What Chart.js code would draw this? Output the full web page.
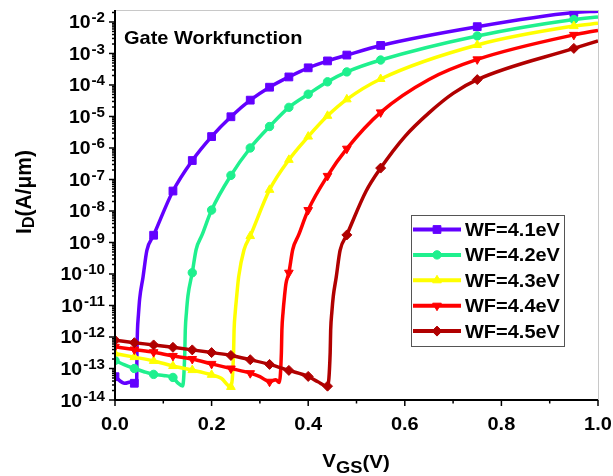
<!DOCTYPE html>
<html>
<head>
<meta charset="utf-8">
<script src="https://cdn.jsdelivr.net/npm/chart.js@4"></script>
<style>
html, body { margin: 0; padding: 0; background: #fff; }
canvas { display: block; }
</style>
</head>
<body>
<canvas id="idvg" width="613" height="476"></canvas>
<script>
// valeurs (VGS en V, ID en A/um)
const vgs41 = [0, 0.02, 0.035, 0.04, 0.0448, 0.0455, 0.0465, 0.0485, 0.051, 0.058, 0.066, 0.08, 0.12, 0.16, 0.20, 0.24, 0.28, 0.32, 0.36, 0.40, 0.44, 0.48, 0.55, 0.75, 0.95, 1.0];
const id41 = [5.5e-14, 3.4e-14, 3.8e-14, 3.4e-14, 3.0e-14, 3.2e-13, 1.6e-12, 5.0e-12, 1.6e-11, 7.9e-11, 5.6e-10, 1.7e-9, 4.3e-8, 4.0e-7, 2.3e-6, 9.8e-6, 3.3e-5, 8.5e-5, 1.8e-4, 3.5e-4, 5.8e-4, 8.9e-4, 1.8e-3, 7.1e-3, 2.0e-2, 2.2e-2];

const vgs42 = [0, 0.02, 0.04, 0.06, 0.08, 0.10, 0.12, 0.13, 0.14, 0.1445, 0.1455, 0.148, 0.151, 0.16, 0.168, 0.18, 0.20, 0.24, 0.28, 0.32, 0.36, 0.40, 0.44, 0.48, 0.55, 0.75, 0.95, 1.0];
const id42 = [1.8e-13, 1.3e-13, 1.0e-13, 7.9e-14, 6.5e-14, 6.0e-14, 5.2e-14, 3.5e-14, 2.8e-14, 3.2e-13, 1.6e-12, 6.3e-12, 2.0e-11, 1.1e-10, 6.0e-10, 1.7e-9, 1.07e-8, 1.35e-7, 1.0e-6, 4.8e-6, 1.95e-5, 5.1e-5, 1.26e-4, 2.6e-4, 6.2e-4, 3.6e-3, 1.2e-2, 1.45e-2];

const vgs43 = [0, 0.04, 0.08, 0.12, 0.16, 0.20, 0.22, 0.24, 0.2455, 0.2465, 0.249, 0.252, 0.256, 0.267, 0.28, 0.32, 0.36, 0.40, 0.44, 0.48, 0.55, 0.75, 0.95, 1.0];
const id43 = [3.0e-13, 2.3e-13, 1.74e-13, 1.2e-13, 8.9e-14, 6.3e-14, 4.9e-14, 2.6e-14, 3.2e-13, 1.6e-12, 6.3e-12, 2.0e-11, 8.1e-11, 5.8e-10, 1.6e-9, 4.7e-8, 4.2e-7, 2.3e-6, 1.05e-5, 3.5e-5, 1.55e-4, 1.86e-3, 7.4e-3, 9.1e-3];

const vgs44 = [0, 0.04, 0.08, 0.12, 0.16, 0.20, 0.24, 0.28, 0.30, 0.32, 0.333, 0.34, 0.3445, 0.3455, 0.348, 0.351, 0.354, 0.36, 0.368, 0.38, 0.40, 0.44, 0.48, 0.55, 0.65, 0.75, 0.95, 1.0];
const id44 = [4.9e-13, 4.0e-13, 3.3e-13, 2.5e-13, 2.0e-13, 1.4e-13, 1.0e-13, 7.1e-14, 5.5e-14, 3.8e-14, 4.4e-14, 3.6e-14, 3.2e-13, 1.6e-12, 6.3e-12, 2.0e-11, 5.0e-11, 1.1e-10, 6.0e-10, 1.7e-9, 1.07e-8, 1.3e-7, 9.5e-7, 1.35e-5, 1.5e-4, 6.5e-4, 3.9e-3, 5.4e-3];

const vgs45 = [0, 0.04, 0.08, 0.12, 0.16, 0.20, 0.24, 0.28, 0.32, 0.36, 0.40, 0.42, 0.44, 0.4455, 0.4465, 0.449, 0.452, 0.458, 0.466, 0.48, 0.52, 0.55, 0.60, 0.65, 0.70, 0.75, 0.95, 1.0];
const id45 = [7.9e-13, 6.6e-13, 5.6e-13, 4.7e-13, 3.9e-13, 3.2e-13, 2.6e-13, 1.9e-13, 1.35e-13, 8.7e-14, 5.6e-14, 3.8e-14, 2.75e-14, 3.2e-13, 1.6e-12, 6.3e-12, 2.0e-11, 7.9e-11, 5.6e-10, 1.74e-9, 4.3e-8, 2.3e-7, 2.3e-6, 1.3e-5, 5.4e-5, 1.48e-4, 1.45e-3, 2.5e-3];

// VGS ou un symbole est dessine
const markerVgs = [0, 0.04, 0.08, 0.12, 0.16, 0.20, 0.24, 0.28, 0.32, 0.36, 0.40, 0.44, 0.48, 0.55, 0.75, 0.95];

const seriesNames = ['WF=4.1eV', 'WF=4.2eV', 'WF=4.3eV', 'WF=4.4eV', 'WF=4.5eV'];
const seriesColors = ['#6300FF', '#1FF08E', '#FFFF00', '#FF0000', '#B00000'];
const xTicks = [0, 0.2, 0.4, 0.6, 0.8, 1.0];
const xTickLabels = ['0.0', '0.2', '0.4', '0.6', '0.8', '1.0'];
const xMinorTicks = [0.1, 0.3, 0.5, 0.7, 0.9];
const yDecades = [-14, -13, -12, -11, -10, -9, -8, -7, -6, -5, -4, -3, -2];

const FONT = '"Liberation Sans", Arial, sans-serif';
const STRETCH = 1.08;

const styles = [
    { pointStyle: 'rect', rotation: 0, radius: 5.5 },
    { pointStyle: 'circle', rotation: 0, radius: 4.2 },
    { pointStyle: 'triangle', rotation: 0, radius: 5 },
    { pointStyle: 'triangle', rotation: 180, radius: 5 },
    { pointStyle: 'rectRot', rotation: 0, radius: 5 }
];

function markerAt(x) {
    return markerVgs.some(v => Math.abs(v - x) < 1e-6);
}

const allVgs = [vgs41, vgs42, vgs43, vgs44, vgs45];
const allId = [id41, id42, id43, id44, id45];

const datasets = allVgs.map((vgs, k) => ({
    label: seriesNames[k],
    data: vgs.map((v, i) => ({ x: v, y: allId[k][i] })),
    borderColor: seriesColors[k],
    backgroundColor: seriesColors[k],
    borderWidth: 3.5,
    cubicInterpolationMode: 'monotone',
    pointStyle: styles[k].pointStyle,
    pointRotation: styles[k].rotation,
    pointBorderWidth: 1,
    pointRadius: c => (c.raw && markerAt(c.raw.x)) ? styles[k].radius : 0,
    order: 4 - k
}));

function largeur(ctx, str, size) {
    ctx.font = 'bold ' + size + 'px ' + FONT;
    return ctx.measureText(str).width * STRETCH;
}

function texte(ctx, str, x, y, size, align) {
    const w = largeur(ctx, str, size);
    let x0 = x;
    if (align === 'center') x0 = x - w / 2;
    else if (align === 'right') x0 = x - w;
    ctx.save();
    ctx.translate(x0, y);
    ctx.scale(STRETCH, 1);
    ctx.textAlign = 'left';
    ctx.textBaseline = 'alphabetic';
    ctx.fillStyle = '#000';
    ctx.fillText(str, 0, 0);
    ctx.restore();
    return w;
}

function trait(ctx, x1, y1, x2, y2) {
    ctx.beginPath();
    ctx.moveTo(x1, y1);
    ctx.lineTo(x2, y2);
    ctx.stroke();
}

const decor = {
    id: 'decor',
    afterDraw(chart) {
        const ctx = chart.ctx;
        const a = chart.chartArea;
        const sx = chart.scales.x;
        const sy = chart.scales.y;
        ctx.save();

        // cadre haut et droite
        ctx.strokeStyle = '#c8c8c8';
        ctx.lineWidth = 1;
        trait(ctx, a.left, a.top + 0.5, a.right + 0.5, a.top + 0.5);
        trait(ctx, a.right + 0.5, a.top, a.right + 0.5, a.bottom);

        // axes
        ctx.strokeStyle = '#000';
        ctx.lineWidth = 2;
        trait(ctx, a.left, a.top, a.left, a.bottom + 1);
        trait(ctx, a.left - 1, a.bottom, a.right, a.bottom);

        // graduations Y
        ctx.lineWidth = 1.5;
        yDecades.forEach(e => {
            for (let m = 1; m <= 9; m++) {
                const v = m * Math.pow(10, e);
                if (v > sy.max * 1.0001) break;
                const py = sy.getPixelForValue(v);
                trait(ctx, a.left - (m === 1 ? 6 : 3), py, a.left, py);
            }
            const py = sy.getPixelForValue(Math.pow(10, e));
            const sup = '-' + (-e);
            const w10 = largeur(ctx, '10', 18);
            const ws = largeur(ctx, sup, 14);
            const x0 = 105 - w10 - ws - 1;
            texte(ctx, '10', x0, py + 6.5, 18, 'left');
            texte(ctx, sup, x0 + w10 + 1, py + 0.5, 14, 'left');
        });

        // graduations X
        xTicks.forEach((v, i) => {
            const px = sx.getPixelForValue(v);
            trait(ctx, px, a.bottom, px, a.bottom + 6);
            texte(ctx, xTickLabels[i], px, a.bottom + 30, 18.5, 'center');
        });
        xMinorTicks.forEach(v => {
            const px = sx.getPixelForValue(v);
            trait(ctx, px, a.bottom, px, a.bottom + 3.5);
        });

        // titre X : V_GS(V)
        const wV = largeur(ctx, 'V', 19), wGS = largeur(ctx, 'GS', 17), wP = largeur(ctx, '(V)', 19);
        let tx = 356 - (wV + wGS + wP) / 2;
        tx += texte(ctx, 'V', tx, 467, 19, 'left');
        tx += texte(ctx, 'GS', tx, 473, 17, 'left');
        texte(ctx, '(V)', tx, 468, 19, 'left');

        // titre Y : I_D(A/um)
        ctx.save();
        ctx.translate(31, 192);
        ctx.rotate(-Math.PI / 2);
        ctx.scale(1, STRETCH);
        ctx.fillStyle = '#000';
        ctx.textBaseline = 'alphabetic';
        ctx.font = 'bold 21px ' + FONT;
        const wI = ctx.measureText('I').width, wR = ctx.measureText('(A/μm)').width;
        ctx.font = 'bold 16px ' + FONT;
        const wD = ctx.measureText('D').width;
        let ty = -(wI + wD + wR) / 2;
        ctx.font = 'bold 21px ' + FONT;
        ctx.fillText('I', ty, 0);
        ty += wI;
        ctx.font = 'bold 16px ' + FONT;
        ctx.fillText('D', ty, 2.8);
        ty += wD;
        ctx.font = 'bold 21px ' + FONT;
        ctx.fillText('(A/μm)', ty, 0);
        ctx.restore();

        // annotation
        texte(ctx, 'Gate Workfunction', 124, 43.5, 18.5, 'left');

        // legende
        const lx0 = 411, lx1 = 564, ly0 = 215, ly1 = 346;
        ctx.fillStyle = '#fff';
        ctx.fillRect(lx0, ly0, lx1 - lx0, ly1 - ly0);
        ctx.strokeStyle = '#555';
        ctx.lineWidth = 1;
        ctx.strokeRect(lx0 + 0.5, ly0 + 0.5, lx1 - lx0, ly1 - ly0);
        seriesNames.forEach((name, k) => {
            const y = 229.5 + k * 25.4;
            ctx.strokeStyle = seriesColors[k];
            ctx.fillStyle = seriesColors[k];
            ctx.lineWidth = 4;
            trait(ctx, lx0 + 2, y, 461, y);
            ctx.lineWidth = 1;
            if (Chart.helpers && Chart.helpers.drawPoint) {
                Chart.helpers.drawPoint(ctx, {
                    pointStyle: styles[k].pointStyle,
                    rotation: styles[k].rotation,
                    radius: styles[k].radius,
                    borderWidth: 1
                }, 437, y);
            }
            texte(ctx, name, 465, y + 6.5, 18.5, 'left');
        });

        ctx.restore();
    }
};

new Chart(document.getElementById('idvg'), {
    type: 'line',
    data: { datasets: datasets },
    options: {
        responsive: false,
        animation: false,
        devicePixelRatio: 1,
        layout: { padding: { left: 115, right: 15, top: 10, bottom: 76 } },
        plugins: {
            legend: { display: false },
            tooltip: { enabled: false }
        },
        scales: {
            x: { type: 'linear', min: 0, max: 1, display: false },
            y: { type: 'logarithmic', min: 1e-14, max: 0.024, display: false }
        }
    },
    plugins: [decor]
});
</script>
</body>
</html>
